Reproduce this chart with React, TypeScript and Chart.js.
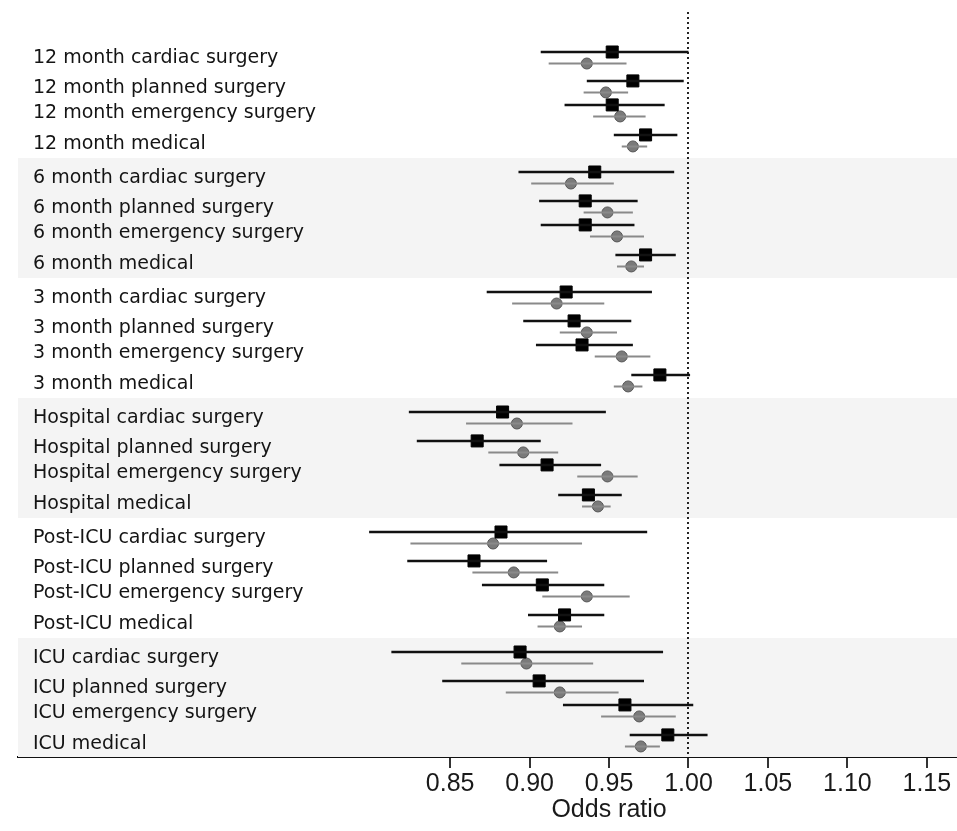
import React, { useEffect, useRef } from "react";
import { Chart, registerables } from "chart.js";

Chart.register(...registerables);

// ---------- DATA ----------
const groups = ["12 month", "6 month", "3 month", "Hospital", "Post-ICU", "ICU"];
const categories = ["cardiac surgery", "planned surgery", "emergency surgery", "medical"];

// Black series (squares): rows listed group by group, category by category
const blackOR = [
  0.952, 0.965, 0.952, 0.973,
  0.941, 0.935, 0.935, 0.973,
  0.923, 0.928, 0.933, 0.982,
  0.883, 0.867, 0.911, 0.937,
  0.882, 0.865, 0.908, 0.922,
  0.894, 0.906, 0.960, 0.987,
];
const blackLow = [
  0.907, 0.936, 0.922, 0.953,
  0.893, 0.906, 0.907, 0.954,
  0.873, 0.896, 0.904, 0.964,
  0.824, 0.829, 0.881, 0.918,
  0.799, 0.823, 0.870, 0.899,
  0.813, 0.845, 0.921, 0.963,
];
const blackHigh = [
  1.000, 0.997, 0.985, 0.993,
  0.991, 0.968, 0.966, 0.992,
  0.977, 0.964, 0.965, 1.001,
  0.948, 0.907, 0.945, 0.958,
  0.974, 0.911, 0.947, 0.947,
  0.984, 0.972, 1.003, 1.012,
];

// Grey series (circles)
const greyOR = [
  0.936, 0.948, 0.957, 0.965,
  0.926, 0.949, 0.955, 0.964,
  0.917, 0.936, 0.958, 0.962,
  0.892, 0.896, 0.949, 0.943,
  0.877, 0.890, 0.936, 0.919,
  0.898, 0.919, 0.969, 0.970,
];
const greyLow = [
  0.912, 0.934, 0.940, 0.958,
  0.901, 0.934, 0.938, 0.955,
  0.889, 0.919, 0.941, 0.953,
  0.860, 0.874, 0.930, 0.933,
  0.825, 0.864, 0.908, 0.905,
  0.857, 0.885, 0.945, 0.960,
];
const greyHigh = [
  0.961, 0.962, 0.973, 0.974,
  0.953, 0.965, 0.972, 0.972,
  0.947, 0.955, 0.976, 0.971,
  0.927, 0.918, 0.968, 0.951,
  0.933, 0.918, 0.963, 0.933,
  0.940, 0.956, 0.992, 0.982,
];

const xTicks = [0.85, 0.9, 0.95, 1.0, 1.05, 1.1, 1.15];
const referenceValue = 1.0;
const axisTitle = "Odds ratio";

// ---------- LAYOUT (row placement inside each group band, in group units) ----------
const blackRowOffset = [0.117, 0.358, 0.558, 0.808];
const greyRowGap = 0.096;
const labelRowOffset = [0.167, 0.417, 0.625, 0.883];

const rowY = (i: number, grey: boolean) => {
  const g = Math.floor(i / 4);
  const c = i % 4;
  return g + blackRowOffset[c] + (grey ? greyRowGap : 0);
};

const ciData = (low: number[], high: number[], grey: boolean) => {
  const out: any[] = [];
  low.forEach((lo, i) => {
    const y = rowY(i, grey);
    out.push({ x: lo, y });
    out.push({ x: high[i], y });
    out.push({ x: high[i], y: null });
  });
  return out;
};

const pointData = (vals: number[], grey: boolean) =>
  vals.map((v, i) => ({ x: v, y: rowY(i, grey) }));

const backgroundPlugin = {
  id: "forestBackground",
  beforeDatasetsDraw(chart: any) {
    const { ctx, chartArea, scales } = chart;
    const ys = scales.y;
    const xs = scales.x;
    ctx.save();
    ctx.fillStyle = "#f4f4f4";
    groups.forEach((_, g) => {
      if (g % 2 === 1) {
        const y1 = Math.max(chartArea.top, ys.getPixelForValue(g));
        const y2 = Math.min(chartArea.bottom, ys.getPixelForValue(g + 1));
        ctx.fillRect(chartArea.left, y1, chartArea.right - chartArea.left, y2 - y1);
      }
    });
    // dotted reference line
    const xr = Math.round(xs.getPixelForValue(referenceValue));
    ctx.strokeStyle = "#222";
    ctx.lineWidth = 2;
    ctx.setLineDash([2, 3]);
    ctx.beginPath();
    ctx.moveTo(xr, chartArea.top + 2);
    ctx.lineTo(xr, chartArea.bottom);
    ctx.stroke();
    ctx.setLineDash([]);
    // row labels
    ctx.fillStyle = "#141414";
    ctx.font = '19px "DejaVu Sans", sans-serif';
    ctx.textAlign = "left";
    ctx.textBaseline = "middle";
    groups.forEach((gName, g) => {
      categories.forEach((cat, c) => {
        ctx.fillText(`${gName} ${cat}`, chartArea.left + 15, ys.getPixelForValue(g + labelRowOffset[c]));
      });
    });
    ctx.restore();
  },
  afterDraw(chart: any) {
    const { ctx, chartArea, scales } = chart;
    ctx.save();
    ctx.fillStyle = "#1a1a1a";
    ctx.font = '25px "Liberation Sans", Arial, sans-serif';
    ctx.textAlign = "center";
    ctx.textBaseline = "middle";
    ctx.fillText(axisTitle, scales.x.getPixelForValue(0.95), chartArea.bottom + 53);
    ctx.restore();
  },
};

export default function App() {
  const ref = useRef<HTMLCanvasElement | null>(null);

  useEffect(() => {
    if (!ref.current) return;
    const chart = new Chart(ref.current, {
      type: "scatter",
      data: {
        datasets: [
          {
            label: "black CI",
            data: ciData(blackLow, blackHigh, false),
            showLine: true,
            spanGaps: false,
            borderColor: "#111",
            borderWidth: 2.5,
            pointRadius: 0,
          },
          {
            label: "grey CI",
            data: ciData(greyLow, greyHigh, true),
            showLine: true,
            spanGaps: false,
            borderColor: "#8a8a8a",
            borderWidth: 2,
            pointRadius: 0,
          },
          {
            label: "black OR",
            data: pointData(blackOR, false),
            pointStyle: "rect",
            pointRadius: 8.5,
            backgroundColor: "#000",
            borderColor: "#000",
            borderWidth: 1,
          },
          {
            label: "grey OR",
            data: pointData(greyOR, true),
            pointStyle: "circle",
            pointRadius: 5.5,
            backgroundColor: "#7a7a7a",
            borderColor: "#555",
            borderWidth: 1,
          },
        ],
      },
      options: {
        animation: false,
        responsive: false,
        events: [],
        layout: { autoPadding: false, padding: { left: 18, top: 10, right: 0, bottom: 0 } },
        plugins: { legend: { display: false }, tooltip: { enabled: false } },
        scales: {
          x: {
            type: "linear",
            position: "bottom",
            min: 0.578,
            max: 1.169,
            afterBuildTicks: (scale: any) => {
              scale.ticks = xTicks.map((v) => ({ value: v }));
            },
            afterFit: (scale: any) => {
              scale.height = 74;
              scale.paddingLeft = 0;
              scale.paddingRight = 0;
            },
            ticks: {
              autoSkip: false,
              maxRotation: 0,
              padding: 4,
              color: "#1a1a1a",
              font: { family: '"Liberation Sans", Arial, sans-serif', size: 25, lineHeight: 1 },
              callback: (v: any) => Number(v).toFixed(2),
            },
            grid: {
              drawOnChartArea: false,
              drawTicks: true,
              tickLength: 11,
              color: "#333",
              lineWidth: 2,
            },
            border: { display: true, color: "#111", width: 2 },
          },
          y: {
            type: "linear",
            display: false,
            reverse: true,
            min: -0.233,
            max: 5.992,
          },
        },
      },
      plugins: [backgroundPlugin],
    });
    return () => chart.destroy();
  }, []);

  return (
    <div style={{ position: "absolute", left: 0, top: 0, width: 957, height: 831 }}>
      <canvas ref={ref} width={957} height={831} style={{ width: 957, height: 831 }} />
    </div>
  );
}
